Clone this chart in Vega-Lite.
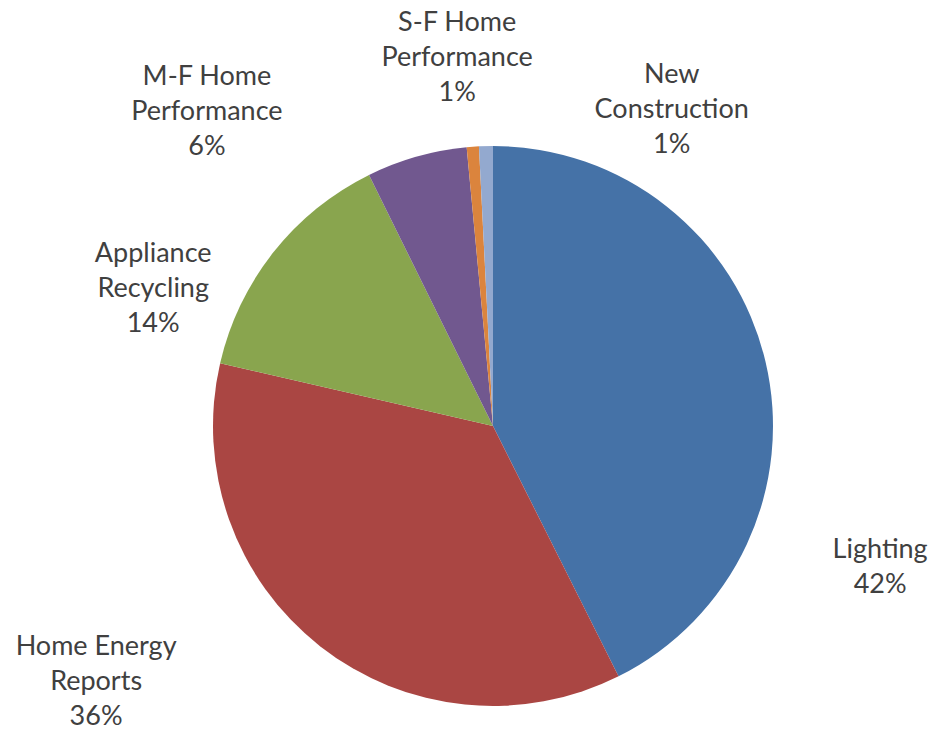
{
  "$schema": "https://vega.github.io/schema/vega-lite/v6.json",
  "width": 800,
  "height": 610,
  "padding": {"left": 93, "top": 121, "right": 47, "bottom": 0},
  "autosize": {"type": "none"},
  "background": "white",
  "view": {"stroke": null},
  "config": {"text": {"font": "Lato", "fontSize": 27, "lineHeight": 35, "fill": "#404040", "lineBreak": "\n", "align": "center", "baseline": "middle"}},
  "data": {"values": [
    {"program": "Lighting", "share": 42.6, "rank": 1, "label": "Lighting\n42%"},
    {"program": "Home Energy Reports", "share": 36.0, "rank": 2, "label": "Home Energy\nReports\n36%"},
    {"program": "Appliance Recycling", "share": 14.1, "rank": 3, "label": "Appliance\nRecycling\n14%"},
    {"program": "M-F Home Performance", "share": 5.8, "rank": 4, "label": "M-F Home\nPerformance\n6%"},
    {"program": "S-F Home Performance", "share": 0.7, "rank": 5, "label": "S-F Home\nPerformance\n1%"},
    {"program": "New Construction", "share": 0.8, "rank": 6, "label": "New\nConstruction\n1%"}
  ]},
  "encoding": {
    "theta": {"field": "share", "type": "quantitative", "stack": true},
    "order": {"field": "rank", "type": "quantitative"},
    "detail": {"field": "program", "type": "nominal"}
  },
  "layer": [
    {
      "mark": {"type": "arc", "outerRadius": 280},
      "encoding": {
        "color": {
          "field": "program", "type": "nominal", "legend": null,
          "scale": {
            "domain": ["Lighting", "Home Energy Reports", "Appliance Recycling", "M-F Home Performance", "S-F Home Performance", "New Construction"],
            "range": ["#4572A7", "#AA4643", "#89A54E", "#71588F", "#DB843D", "#93A9CF"]
          }
        }
      }
    },
    {
      "mark": {"type": "text", "radius": 330, "dx": 66, "dy": 200},
      "encoding": {"text": {"condition": {"test": "datum.program === 'Lighting'", "field": "label"}, "value": ""}}
    },
    {
      "mark": {"type": "text", "radius": 330, "dx": -193, "dy": -38},
      "encoding": {"text": {"condition": {"test": "datum.program === 'Home Energy Reports'", "field": "label"}, "value": ""}}
    },
    {
      "mark": {"type": "text", "radius": 330, "dx": -81, "dy": 33},
      "encoding": {"text": {"condition": {"test": "datum.program === 'Appliance Recycling'", "field": "label"}, "value": ""}}
    },
    {
      "mark": {"type": "text", "radius": 330, "dx": -196, "dy": -32},
      "encoding": {"text": {"condition": {"test": "datum.program === 'M-F Home Performance'", "field": "label"}, "value": ""}}
    },
    {
      "mark": {"type": "text", "radius": 330, "dx": -12, "dy": -74},
      "encoding": {"text": {"condition": {"test": "datum.program === 'S-F Home Performance'", "field": "label"}, "value": ""}}
    },
    {
      "mark": {"type": "text", "radius": 330, "dx": 187, "dy": -21},
      "encoding": {"text": {"condition": {"test": "datum.program === 'New Construction'", "field": "label"}, "value": ""}}
    }
  ]
}
